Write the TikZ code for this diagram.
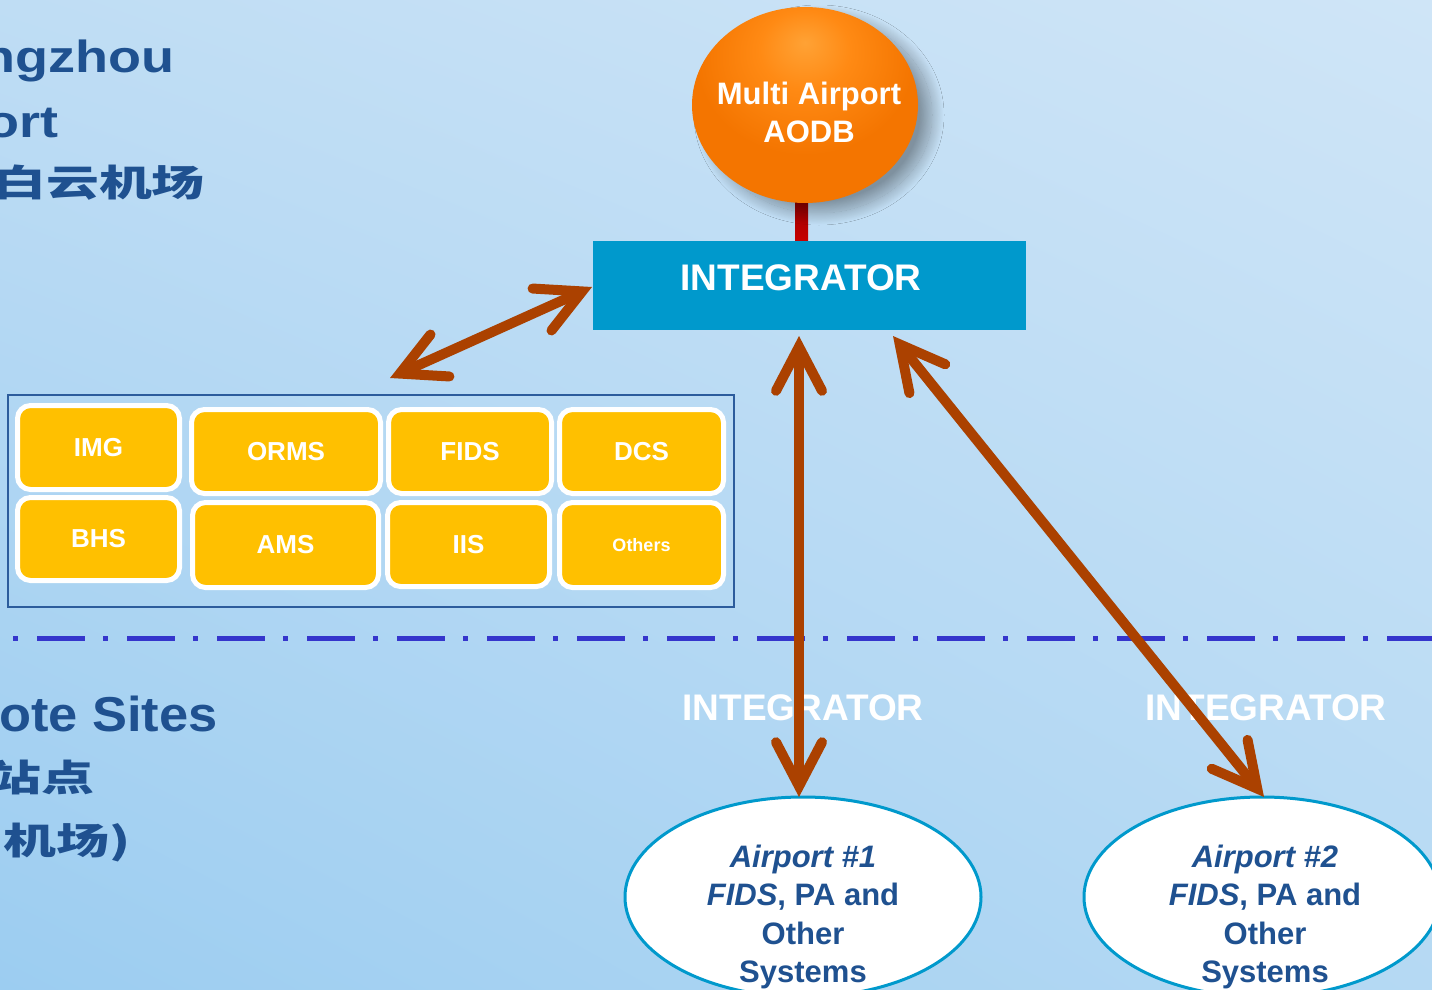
\documentclass[tikz,border=0pt]{standalone}
\usepackage{fontspec}
\setmainfont{Liberation Sans}
\newfontfamily\cjk{Noto Sans CJK SC}
\usetikzlibrary{arrows.meta,shadows.blur,shapes.geometric,shadings}
\definecolor{bgTL}{HTML}{BFDDF4}
\definecolor{bgTR}{HTML}{CFE5F7}
\definecolor{bgBL}{HTML}{9CCDF1}
\definecolor{bgBR}{HTML}{B5D9F3}
\definecolor{arrowc}{HTML}{AB4100}
\definecolor{integ}{HTML}{0099CC}
\definecolor{boxy}{HTML}{FFC000}
\definecolor{navy}{HTML}{1F5190}
\definecolor{dashc}{HTML}{3535CC}
\definecolor{rimc}{HTML}{2C5C9C}
\definecolor{stemA}{HTML}{8A0000}
\definecolor{stemB}{HTML}{C80000}
\definecolor{orA}{HTML}{FFA235}
\definecolor{orB}{HTML}{FF8A14}
\definecolor{orC}{HTML}{F47500}
\definecolor{orD}{HTML}{DC6200}
\pgfdeclareradialshading{orangeball}{\pgfpoint{0bp}{16bp}}{color(0bp)=(orA); color(10bp)=(orB); color(24bp)=(orC); color(44bp)=(orC); color(56bp)=(orD); color(80bp)=(orD)}
\tikzset{
  sysbox/.style={draw=white, line width=5pt, fill=boxy, rounded corners=13pt, text=white,
    inner sep=0pt, font=\bfseries\fontsize{26}{28}\selectfont},
  barb/.style={Straight Barb[length=44pt,width=46pt,line width=0pt 1,line cap=round,line join=miter]},
  bigarrow/.style={arrowc, line width=10pt, arrows={Straight Barb[length=44pt,width=46pt,line cap=round,line join=miter]-Straight Barb[length=44pt,width=46pt,line cap=round,line join=miter]}},
  lefttext/.style={anchor=base east, inner sep=0pt, text=navy},
  cjktext/.style={anchor=east, inner sep=0pt, text=navy, font=\cjk\bfseries\fontsize{46}{50}\selectfont},
  whitelabel/.style={inner sep=0pt, text=white, font=\bfseries\fontsize{37}{40}\selectfont},
  siteell/.style={ellipse, draw=integ, line width=3pt, fill=white, minimum width=356pt, minimum height=200pt, inner sep=0pt},
  sitetext/.style={inner sep=0pt, align=center, text=navy, font=\bfseries\fontsize{31}{38.5}\selectfont}
}
\begin{document}
\begin{tikzpicture}[x=1pt,y=-1pt]
\useasboundingbox (0,0) rectangle (1432,990);
\clip (0,0) rectangle (1432,990);
\shade[upper left=bgTL, upper right=bgTR, lower left=bgBL, lower right=bgBR] (0,0) rectangle (1432,990);

% separator
\coordinate (sepL) at (13,638);
\coordinate (sepR) at (1445,638);
\draw[dashc, line width=5pt, dash pattern=on 4.5pt off 19.5pt on 47.5pt off 18.5pt] (sepL) -- (sepR);

% left titles
\node[lefttext] (t1) at (175,73) {\scalebox{1.2}[1]{\bfseries\fontsize{45}{50}\selectfont Guangzhou}};
\node[lefttext] (t2) at (59,137) {\scalebox{1.2}[1]{\bfseries\fontsize{45}{50}\selectfont Baiyun Airport}};
\node[cjktext] (t3) at (205,183) {\scalebox{1.15}[0.8]{广州白云机场}};
\node[lefttext] (t4) at (218,731) {\scalebox{1.07}[1]{\bfseries\fontsize{49}{55}\selectfont Remote Sites}};
\node[cjktext] (t5) at (95,778) {\scalebox{1.15}[0.8]{远程站点}};
\node[cjktext] (t6) at (131,842) {\scalebox{1.15}[0.8]{(其它机场)}};

% systems group
\node[draw=rimc, line width=2pt, minimum width=726pt, minimum height=212pt, inner sep=0pt] (grp) at (371,501) {};
\node[sysbox, minimum width=162pt, minimum height=84pt] (img) at (98.5,447.5) {IMG};
\node[sysbox, minimum width=162pt, minimum height=83pt] (bhs) at (98.5,539) {BHS};
\node[sysbox, minimum width=189pt, minimum height=84pt] (orms) at (286,451.5) {ORMS};
\node[sysbox, minimum width=186pt, minimum height=85pt] (ams) at (285.5,545) {AMS};
\node[sysbox, minimum width=163pt, minimum height=84pt] (fids) at (470,451.5) {FIDS};
\node[sysbox, minimum width=162pt, minimum height=84pt] (iis) at (468.5,544.5) {IIS};
\node[sysbox, minimum width=164pt, minimum height=84pt] (dcs) at (641.5,451.5) {DCS};
\node[sysbox, minimum width=164pt, minimum height=85pt, font=\bfseries\fontsize{18}{20}\selectfont] (oth) at (641.5,545) {Others};

% AODB
\shade[top color=stemA, bottom color=stemB] (795,190) rectangle (808,241);
\node[ellipse, minimum width=226pt, minimum height=196pt, inner sep=0pt, shading=orangeball,
  blur shadow={shadow xshift=14pt, shadow yshift=-10pt, shadow opacity=35, shadow blur radius=12pt, shadow blur steps=30}] (aodb) at (805,105) {};
\node[inner sep=0pt, align=center, text=white, font=\bfseries\fontsize{31}{38}\selectfont] (aodbT) at (809,112) {Multi Airport\\AODB};

% integrator
\node[fill=integ, minimum width=433pt, minimum height=89pt, inner sep=0pt] (integ) at (809.5,285.5) {};
\node[whitelabel] (integT) at (801,278) {INTEGRATOR};

% remote integrators
\node[whitelabel] (ri1) at (803,708) {INTEGRATOR};
\node[whitelabel] (ri2) at (1266,708) {INTEGRATOR};

% airports
\node[siteell] (ap1) at (803,897) {};
\node[siteell] (ap2) at (1262,897) {};
\node[sitetext] (ap1T) at (803,917) {\itshape Airport \#1\\{\itshape FIDS}, PA and\\Other\\Systems};
\node[sitetext] (ap2T) at (1265,917) {\itshape Airport \#2\\{\itshape FIDS}, PA and\\Other\\Systems};

% connectors
\coordinate (lA) at (592,287);
\coordinate (lB) at (390,378);
\coordinate (vT) at (799,336);
\coordinate (vB) at (799,797);
\coordinate (dT) at (893,336);
\coordinate (dB) at (1264,797);
\draw[bigarrow] (lA) -- (lB);
\draw[bigarrow] (vT) -- (vB);
\draw[bigarrow] (dT) -- (dB);
\end{tikzpicture}
\end{document}
